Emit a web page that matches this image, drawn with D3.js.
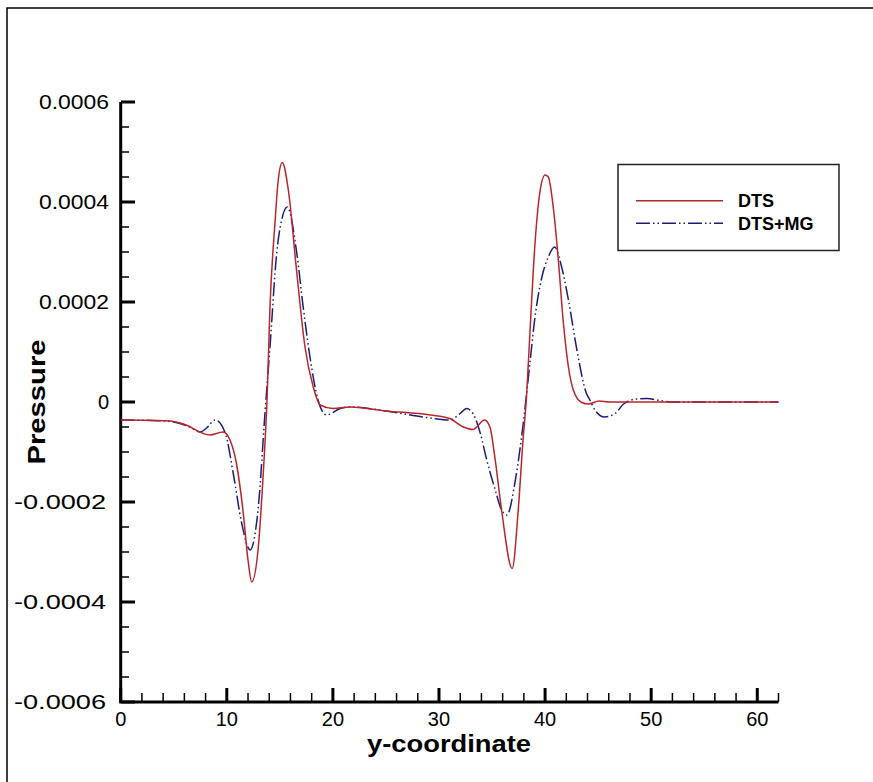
<!DOCTYPE html>
<html>
<head>
<meta charset="utf-8">
<script src="https://cdn.jsdelivr.net/npm/d3@7"></script>
<style>
  body { margin: 0; background: #fff; }
  text { font-family: "Liberation Sans", Arial, sans-serif; }
</style>
</head>
<body>
<div id="chart"></div>
<script>
// pressure vs y-coordinate, two runs
let dtsX = [0, 3, 4.65, 5.9, 8.4, 9.65, 10.3, 10.9, 11.55, 12.0, 12.35, 12.97, 13.4, 13.8, 14.07, 14.54, 14.85, 15.23,
    15.8, 16.6, 17.37, 18.15, 18.8, 20.0, 21.6, 25, 29.2, 31.0, 32.3, 33.2, 34.3, 34.8, 35.3, 35.9, 36.9, 37.47, 37.9,
    38.27, 38.6, 39.05, 39.5, 40.0, 40.3, 40.8, 41.25, 41.7, 42.2, 42.66, 43.45, 44.07, 45.1, 46.1, 50, 55, 62];
let dtsP = [-0.36, -0.37, -0.38, -0.44, -0.66, -0.60, -0.76, -1.22, -2.22, -3.16, -3.6, -2.9, -1.56, 0.1, 1.9, 3.58, 4.44, 4.79,
    4.24, 2.58, 1.1, 0.3, -0.06, -0.13, -0.1, -0.18, -0.26, -0.33, -0.5, -0.55, -0.36, -0.5, -1.16, -2.16, -3.33, -2.16, -0.82,
    0.18, 1.5, 3.17, 4.18, 4.54, 4.5, 3.84, 2.84, 1.64, 0.7, 0.24, -0.01, -0.04, 0.02, 0, 0, 0, 0];

let mgX = [0, 3, 5, 6.5, 7.5, 8.1, 8.9, 9.85, 10.6, 11.4, 12.2, 12.97, 13.6, 14.07, 14.7, 15.17, 15.7, 16.6, 17.2, 17.84,
    18.6, 19.4, 20.7, 21.6, 25, 29.2, 31.0, 32.0, 32.6, 33.2, 33.9, 34.5, 35.3, 35.9, 36.4, 37.2, 37.9, 38.6, 39.05, 39.7,
    40.3, 40.9, 41.56, 42.2, 43.0, 43.9, 44.2, 44.7, 45.6, 46.6, 47.4, 48.6, 49.6, 50.8, 52.1, 62];
let mgP = [-0.36, -0.37, -0.40, -0.5, -0.6, -0.52, -0.36, -0.62, -1.42, -2.42, -2.96, -2.1, -0.22, 1.1, 2.97, 3.64, 3.9, 2.97, 1.9, 0.9,
    0.04, -0.26, -0.13, -0.1, -0.18, -0.32, -0.36, -0.23, -0.13, -0.23, -0.63, -1.16, -1.76, -2.16, -2.26, -1.56, -0.5, 0.84, 1.7, 2.5,
    2.9, 3.1, 2.7, 2.04, 1.04, 0.17, 0.05, -0.16, -0.3, -0.23, -0.04, 0.06, 0.07, 0.03, 0, 0];

let yTicks = [-0.0006, -0.0004, -0.0002, 0, 0.0002, 0.0004, 0.0006];
let yTickLabels = ['-0.0006', '-0.0004', '-0.0002', '0', '0.0002', '0.0004', '0.0006'];
let xTicks = [0, 10, 20, 30, 40, 50, 60];

let svgwidth = 873;
let svgheight = 782;

let svg = d3.select('#chart').append('svg')
    .attr('width', svgwidth)
    .attr('height', svgheight);

// outer frame (top + left only)
svg.append('path')
    .attr('d', 'M7,782 V8 H873')
    .attr('fill', 'none')
    .attr('stroke', '#000')
    .attr('stroke-width', 1.5);

let xScale = d3.scaleLinear().domain([0, 62]).range([120.7, 778.5]);
let yScale = d3.scaleLinear().domain([-0.0006, 0.0006]).range([702, 102]);

let chart = svg.append('g');

// minor ticks
let xMinor = d3.range(0, 63, 2).filter(v => v % 10 !== 0);
let yMinor = d3.range(-12, 13).map(v => v * 0.00005).filter(v => Math.abs(Math.round(v * 1e5)) % 20 !== 0);

chart.selectAll('.xminor').data(xMinor).enter().append('line')
    .attr('x1', d => xScale(d)).attr('x2', d => xScale(d))
    .attr('y1', 702).attr('y2', 693)
    .attr('stroke', '#000').attr('stroke-width', 1.5);

chart.selectAll('.yminor').data(yMinor).enter().append('line')
    .attr('x1', 121).attr('x2', 129)
    .attr('y1', d => yScale(d)).attr('y2', d => yScale(d))
    .attr('stroke', '#000').attr('stroke-width', 1.5);

// major ticks
chart.selectAll('.xmajor').data(xTicks).enter().append('line')
    .attr('x1', d => xScale(d)).attr('x2', d => xScale(d))
    .attr('y1', 702).attr('y2', 688)
    .attr('stroke', '#000').attr('stroke-width', 3);

chart.selectAll('.ymajor').data(yTicks).enter().append('line')
    .attr('x1', 121).attr('x2', 135)
    .attr('y1', d => yScale(d)).attr('y2', d => yScale(d))
    .attr('stroke', '#000').attr('stroke-width', 3);

// axis lines
chart.append('path')
    .attr('d', `M${xScale(0)},${yScale(0.0006)} V${yScale(-0.0006)} H${xScale(62)}`)
    .attr('fill', 'none')
    .attr('stroke', '#000')
    .attr('stroke-width', 3);

// tick labels
chart.selectAll('.xlab').data(xTicks).enter().append('text')
    .attr('x', d => xScale(d))
    .attr('y', 726)
    .attr('text-anchor', 'middle')
    .attr('font-size', '20px')
    .text(d => d);

chart.selectAll('.ylab').data(yTicks).enter().append('text')
    .attr('x', d => d < 0 ? 106 : 109)
    .attr('y', d => yScale(d) + 7)
    .attr('text-anchor', 'end')
    .attr('font-size', '20px')
    .attr('textLength', d => d === 0 ? null : (d < 0 ? 92 : 70))
    .attr('lengthAdjust', 'spacingAndGlyphs')
    .text((d, i) => yTickLabels[i]);

// axis titles
svg.append('text')
    .attr('x', 449)
    .attr('y', 752)
    .attr('text-anchor', 'middle')
    .attr('font-size', '23px')
    .attr('font-weight', 'bold')
    .attr('textLength', 164)
    .attr('lengthAdjust', 'spacingAndGlyphs')
    .text('y-coordinate');

svg.append('text')
    .attr('transform', 'translate(45, 402) rotate(-90)')
    .attr('text-anchor', 'middle')
    .attr('font-size', '24px')
    .attr('font-weight', 'bold')
    .attr('textLength', 125)
    .attr('lengthAdjust', 'spacingAndGlyphs')
    .text('Pressure');

// lines
let line = d3.line()
    .x(d => xScale(d[0]))
    .y(d => yScale(d[1] * 1e-4))
    .curve(d3.curveMonotoneX);

let dtsData = dtsX.map((x, i) => [x, dtsP[i]]);
let mgData = mgX.map((x, i) => [x, mgP[i]]);

chart.append('path')
    .attr('d', line(mgData))
    .attr('fill', 'none')
    .attr('stroke', '#1c1c7a')
    .attr('stroke-width', 1.5)
    .attr('stroke-dasharray', '14,3,1.5,3,1.5,3');

chart.append('path')
    .attr('d', line(dtsData))
    .attr('fill', 'none')
    .attr('stroke', '#b8262c')
    .attr('stroke-width', 1.5);

// legend
let legend = svg.append('g');

legend.append('rect')
    .attr('x', 618).attr('y', 164.5)
    .attr('width', 221).attr('height', 86)
    .attr('fill', '#fff')
    .attr('stroke', '#222')
    .attr('stroke-width', 1.5);

legend.append('line')
    .attr('x1', 636).attr('x2', 723).attr('y1', 200.7).attr('y2', 200.7)
    .attr('stroke', '#b8262c').attr('stroke-width', 1.5);

legend.append('line')
    .attr('x1', 636).attr('x2', 723).attr('y1', 223.3).attr('y2', 223.3)
    .attr('stroke', '#1c1c7a').attr('stroke-width', 1.5)
    .attr('stroke-dasharray', '14,3,1.5,3,1.5,3');

legend.append('text')
    .attr('x', 738).attr('y', 206.5)
    .attr('font-size', '18px').attr('font-weight', 'bold')
    .text('DTS');

legend.append('text')
    .attr('x', 738).attr('y', 229.5)
    .attr('font-size', '18px').attr('font-weight', 'bold')
    .text('DTS+MG');
</script>
</body>
</html>
